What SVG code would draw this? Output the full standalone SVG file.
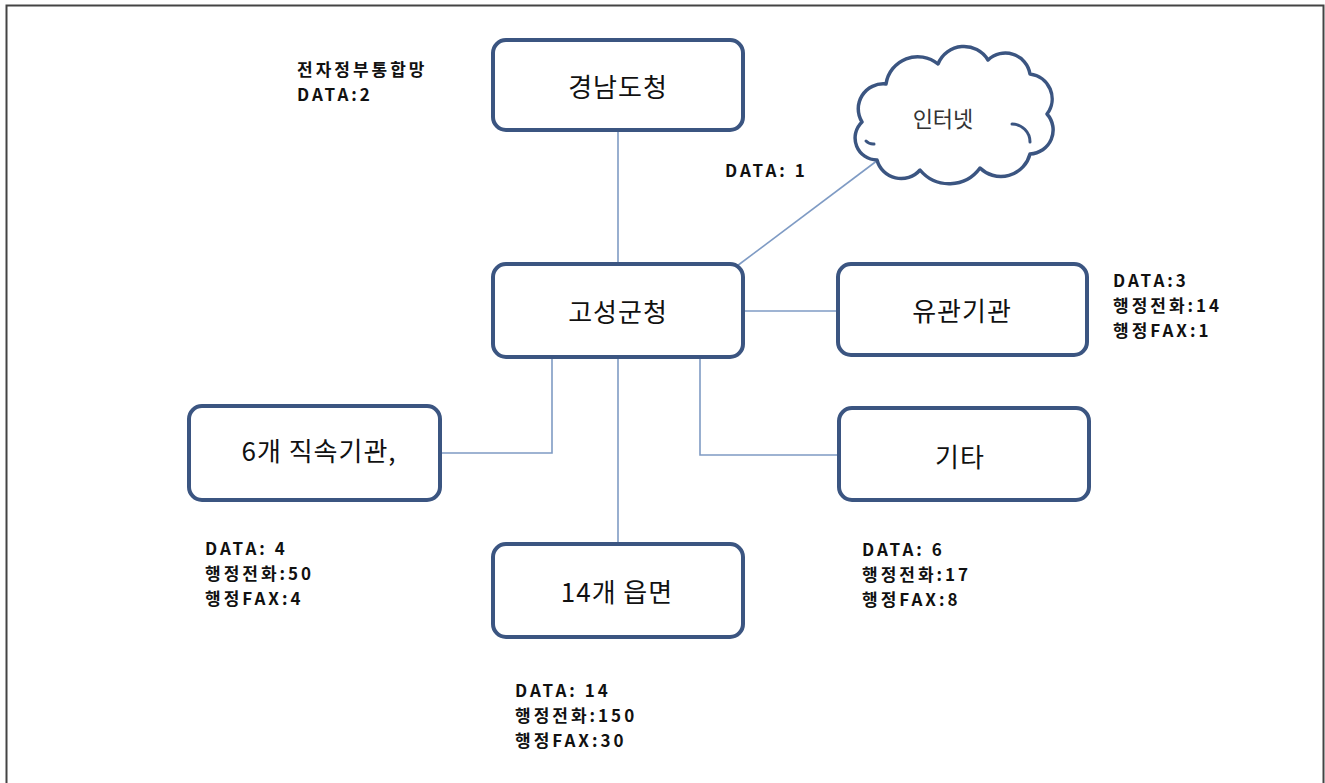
<svg xmlns="http://www.w3.org/2000/svg" width="1325" height="783" viewBox="0 0 1325 783">
<style>
.box{fill:#fff;stroke:#3b5581;stroke-width:4}
.cloud{fill:#fff;stroke:#3b5581;stroke-width:3.5;stroke-linejoin:round}
.curl{fill:none;stroke:#3b5581;stroke-width:3;stroke-linecap:round}
.con{fill:none;stroke:#7f9bc4;stroke-width:1.6}
.t{font-family:"Noto Sans CJK KR","Noto Sans",sans-serif;font-size:26px;fill:#111;text-anchor:middle;dominant-baseline:central;letter-spacing:1px}
.l{font-family:"Noto Sans CJK KR","Noto Sans",sans-serif;font-size:17px;font-weight:bold;fill:#111;letter-spacing:3px}
</style>
<rect x="0" y="0" width="1325" height="783" fill="#fff"/>
<rect x="6.5" y="5.5" width="1317" height="800" fill="none" stroke="#444" stroke-width="2"/>
<g id="connectors">
<line class="con" x1="618" y1="130" x2="618" y2="263"/>
<line class="con" x1="618" y1="357" x2="618" y2="543"/>
<line class="con" x1="737" y1="266" x2="878" y2="160"/>
<line class="con" x1="743" y1="311" x2="838" y2="311"/>
<polyline class="con" points="552,357 552,453 440,453"/>
<polyline class="con" points="700,357 700,455 838,455"/>
</g>
<g id="n-gyeongnam"><rect class="box" x="493" y="40" width="250" height="90" rx="13"/><text class="t" x="618" y="85">경남도청</text></g>
<g id="n-goseong"><rect class="box" x="493" y="264" width="250" height="93" rx="13"/><text class="t" x="618" y="310">고성군청</text></g>
<g id="n-yugwan"><rect class="box" x="838" y="264" width="249" height="91" rx="13"/><text class="t" x="962" y="309">유관기관</text></g>
<g id="n-jiksok"><rect class="box" x="189" y="406" width="251" height="94" rx="13"/><text class="t" x="319" y="449">6개 직속기관,</text></g>
<g id="n-gita"><rect class="box" x="839" y="408" width="250" height="92" rx="13"/><text class="t" x="960" y="455">기타</text></g>
<g id="n-eupmyeon"><rect class="box" x="493" y="544" width="250" height="93" rx="13"/><text class="t" x="617" y="590">14개 읍면</text></g>
<g id="n-internet">
<path class="cloud" d="M877,160 A22,22 0 0 1 862,122 A25,25 0 0 1 886,84 A32,32 0 0 1 938,64 A28,28 0 0 1 988,60 A25,25 0 0 1 1030,74 A25,25 0 0 1 1047,114 A24,24 0 0 1 1030,154 A30,30 0 0 1 980,168 A38,38 0 0 1 920,170 A25,25 0 0 1 877,160 Z"/>
<path class="curl" d="M1012,124 A18,18 0 0 1 1030,142"/>
<path class="curl" d="M866,141 A10,10 0 0 0 874,144"/>
<text class="t" x="943" y="117" style="font-size:22px;fill:#333;letter-spacing:0">인터넷</text>
</g>
<g id="labels">
<text class="l"><tspan x="297" y="76">전자정부통합망</tspan><tspan x="297" y="101">DATA:2</tspan></text>
<text class="l" x="725" y="177">DATA: 1</text>
<text class="l"><tspan x="1113" y="287">DATA:3</tspan><tspan x="1113" y="312">행정전화:14</tspan><tspan x="1113" y="337">행정FAX:1</tspan></text>
<text class="l"><tspan x="205" y="555">DATA: 4</tspan><tspan x="205" y="580">행정전화:50</tspan><tspan x="205" y="605">행정FAX:4</tspan></text>
<text class="l"><tspan x="862" y="556">DATA: 6</tspan><tspan x="862" y="581">행정전화:17</tspan><tspan x="862" y="606">행정FAX:8</tspan></text>
<text class="l"><tspan x="515" y="697">DATA: 14</tspan><tspan x="515" y="722">행정전화:150</tspan><tspan x="515" y="747">행정FAX:30</tspan></text>
</g>
</svg>
